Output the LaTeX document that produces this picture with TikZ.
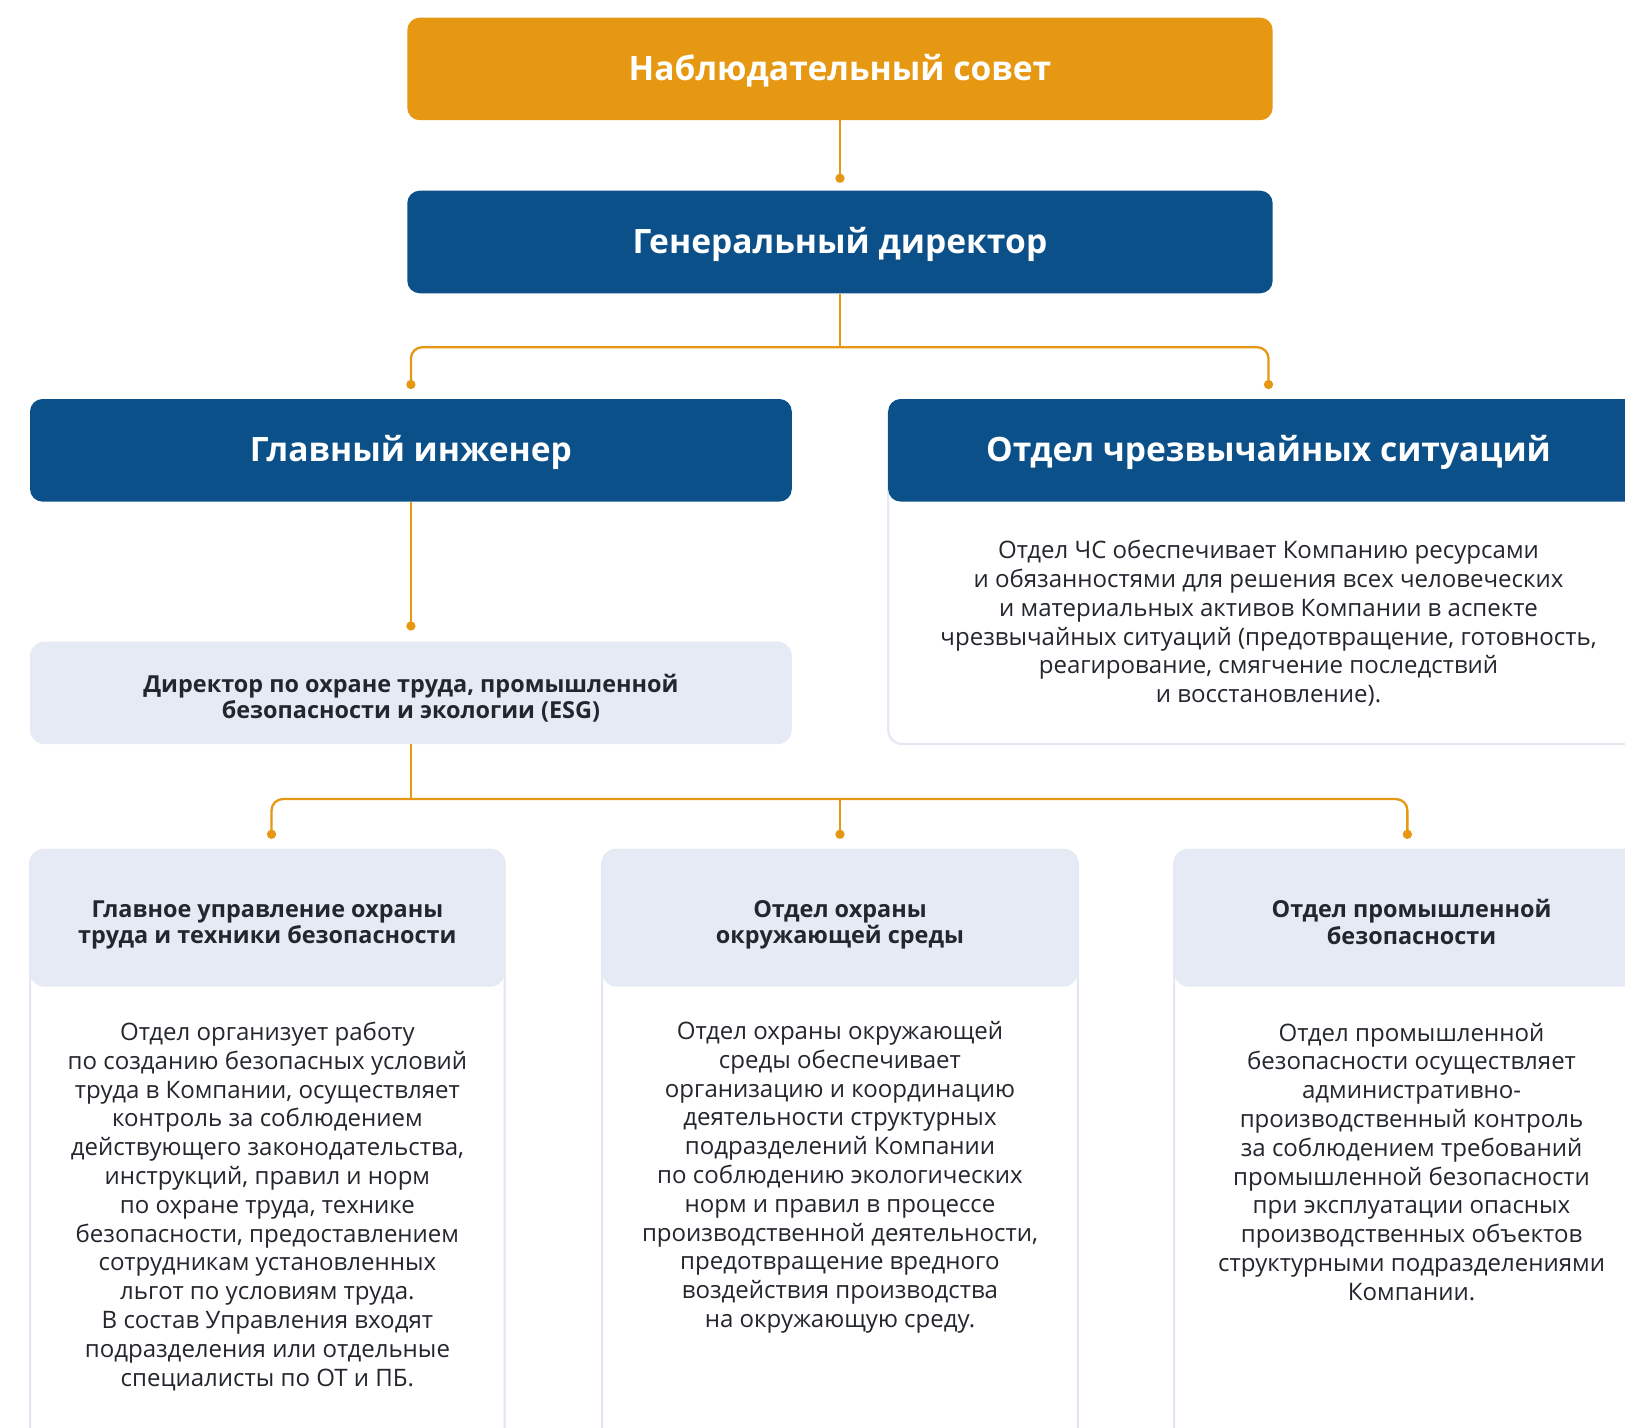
\documentclass[tikz,border=0pt]{standalone}
\usepackage{fontspec}
\setmainfont{Open Sans}
\newfontfamily\headfont{Open Sans}
\definecolor{orng}{HTML}{E69812}
\definecolor{navy}{HTML}{0C508A}
\definecolor{pale}{HTML}{E6EAF5}
\definecolor{edgec}{HTML}{E2E7F1}
\definecolor{ink}{HTML}{23272D}
\begin{document}
\begin{tikzpicture}[x=1pt,y=-1pt,
  topbox/.style={fill=orng, rounded corners=12pt, minimum width=835pt, minimum height=99pt, inner sep=0pt},
  bluebox/.style={fill=navy, rounded corners=12pt, minimum height=99pt, inner sep=0pt},
  palebox/.style={fill=pale, rounded corners=14pt, inner sep=0pt},
  framebox/.style={draw=edgec, line width=2pt, fill=white, rounded corners=14pt},
  link/.style={draw=orng, line width=2.2pt, rounded corners=11pt},
  dot/.style={circle, fill=orng, inner sep=0pt, minimum size=9pt},
  headtxt/.style={text=white, text height=23pt, text depth=1pt, font=\headfont\bfseries\fontsize{32.4}{36}\selectfont},
  subtxt/.style={text=ink, align=center, inner sep=0pt, font=\headfont\bfseries\fontsize{22.6}{25.5}\selectfont},
  bodytxt/.style={text=ink, align=center, inner sep=0pt, font=\fontsize{23.2}{27.8}\selectfont}
]
\clip (0,0) rectangle (1568,1377);
\fill[white] (0,0) rectangle (1568,1377);

% frames (drawn first, behind headers)
\draw[framebox] (857,386) rectangle (1620,718);
\draw[framebox] (29,820) rectangle (487,1450);
\draw[framebox] (581,820) rectangle (1040,1450);
\draw[framebox] (1133,820) rectangle (1620,1450);

% top nodes
\node[topbox, headtxt] (nab) at (810.5,66.5) {Наблюдательный совет};
\node[bluebox, headtxt, minimum width=835pt] (gd) at (810.5,233.5) {Генеральный директор};
\node[bluebox, headtxt, minimum width=735pt] (gi) at (396.5,434.5) {Главный инженер};
\node[bluebox, headtxt, minimum width=734pt] (chs) at (1224,434.5) {Отдел чрезвычайных ситуаций};

\node[bodytxt] (chst) at (1224,601.5) {Отдел ЧС обеспечивает Компанию ресурсами\\
и обязанностями для решения всех человеческих\\
и материальных активов Компании в аспекте\\
чрезвычайных ситуаций (предотвращение, готовность,\\
реагирование, смягчение последствий\\
и восстановление).};

\node[palebox, minimum width=735pt, minimum height=99pt] (esg) at (396.5,668.5) {};
\node[subtxt] (esgt) at (396.5,673.5) {Директор по охране труда, промышленной\\безопасности и экологии (ESG)};

% bottom headers
\node[palebox, minimum width=458pt, minimum height=133pt] (h1) at (258,885.5) {};
\node[palebox, minimum width=459pt, minimum height=133pt] (h2) at (810.5,885.5) {};
\node[palebox, minimum width=458pt, minimum height=133pt] (h3) at (1362,885.5) {};
\node[subtxt] (h1t) at (258,892.5) {Главное управление охраны\\труда и техники безопасности};
\node[subtxt] (h2t) at (810.5,892.5) {Отдел охраны\\окружающей среды};
\node[subtxt] (h3t) at (1362,889.5) {Отдел промышленной\\безопасности};

% bottom bodies
\node[bodytxt] (b1) at (258,1164) {Отдел организует работу\\
по созданию безопасных условий\\
труда в Компании, осуществляет\\
контроль за соблюдением\\
действующего законодательства,\\
инструкций, правил и норм\\
по охране труда, технике\\
безопасности, предоставлением\\
сотрудникам установленных\\
льгот по условиям труда.\\
В состав Управления входят\\
подразделения или отдельные\\
специалисты по ОТ и ПБ.};
\node[bodytxt] (b2) at (810.5,1136) {Отдел охраны окружающей\\
среды обеспечивает\\
организацию и координацию\\
деятельности структурных\\
подразделений Компании\\
по соблюдению экологических\\
норм и правил в процессе\\
производственной деятельности,\\
предотвращение вредного\\
воздействия производства\\
на окружающую среду.};
\node[bodytxt] (b3) at (1362,1121) {Отдел промышленной\\
безопасности осуществляет\\
административно-\\
производственный контроль\\
за соблюдением требований\\
промышленной безопасности\\
при эксплуатации опасных\\
производственных объектов\\
структурными подразделениями\\
Компании.};

% dots
\node[dot] (d0) at (810.5,172) {};
\node[dot] (d1) at (396.5,371) {};
\node[dot] (d2) at (1224,371) {};
\node[dot] (d3) at (396.5,604) {};
\node[dot] (d4) at (262,805) {};
\node[dot] (d5) at (810.5,805) {};
\node[dot] (d6) at (1358,805) {};
\coordinate (j1) at (810.5,335);
\coordinate (j2) at (396.5,771);
\coordinate (j3) at (810.5,771);

% connectors
\draw[link] (nab.south) -- (d0.center);
\draw[link] (gd.south) -- (j1);
\draw[link] (d1.center) |- (j1) -| (d2.center);
\draw[link] (gi.south) -- (d3.center);
\draw[link] (esg.south) -- (j2);
\draw[link] (d4.center) |- (j2) -| (d6.center);
\draw[link] (j3) -- (d5.center);
\end{tikzpicture}
\end{document}
